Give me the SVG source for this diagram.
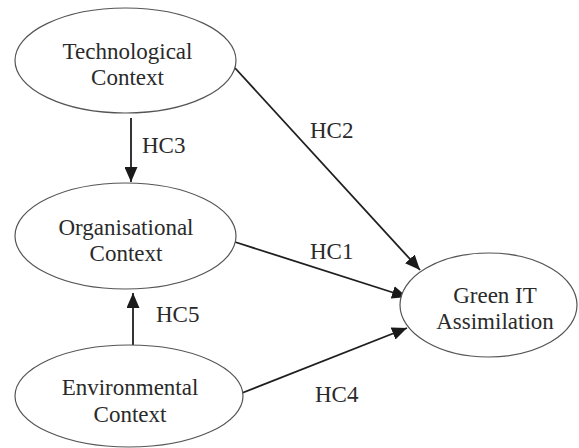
<svg xmlns="http://www.w3.org/2000/svg" width="579" height="448" viewBox="0 0 579 448" font-family="Liberation Serif, DejaVu Serif, serif">
<defs>
<marker id="arr" markerWidth="15" markerHeight="13" refX="15" refY="6.5" orient="auto" markerUnits="userSpaceOnUse">
<path d="M0,0 L15,6.5 L0,13 z" fill="#1a1a1a"/>
</marker>
<style>
.node ellipse{fill:#fff;stroke:#555;stroke-width:1.2}
text{font-family:'Liberation Serif','DejaVu Serif',serif;font-size:23px;fill:#2a2a2a}
.c{text-anchor:middle}
.edges line{stroke:#1f1f1f;stroke-width:1.8;marker-end:url(#arr)}
</style>
</defs>
<rect width="579" height="448" fill="#fff"/>
<g id="connectors" class="edges">
<line x1="131" y1="118" x2="131" y2="182"/>
<line x1="133" y1="345" x2="133" y2="293"/>
<line x1="235" y1="68" x2="420" y2="270"/>
<line x1="235" y1="242" x2="407" y2="297"/>
<line x1="242" y1="393" x2="407" y2="328"/>
</g>
<g id="labels">
<text x="142" y="153">HC3</text>
<text x="156" y="322">HC5</text>
<text x="310" y="138">HC2</text>
<text x="310" y="259">HC1</text>
<text x="315" y="402">HC4</text>
</g>
<g id="technological" class="node">
<ellipse cx="125.5" cy="60.5" rx="110.5" ry="52.5"/>
<text class="c" x="127.5" y="59">Technological</text>
<text class="c" x="127.5" y="85">Context</text>
</g>
<g id="organisational" class="node">
<ellipse cx="125.5" cy="236" rx="110.5" ry="53"/>
<text class="c" x="126" y="235">Organisational</text>
<text class="c" x="126" y="261">Context</text>
</g>
<g id="environmental" class="node">
<ellipse cx="129" cy="396" rx="114" ry="51"/>
<text class="c" x="130" y="395">Environmental</text>
<text class="c" x="130" y="422">Context</text>
</g>
<g id="green-it" class="node">
<ellipse cx="488.5" cy="305" rx="88.5" ry="52"/>
<text class="c" x="495" y="303">Green IT</text>
<text class="c" x="495" y="329">Assimilation</text>
</g>
</svg>
